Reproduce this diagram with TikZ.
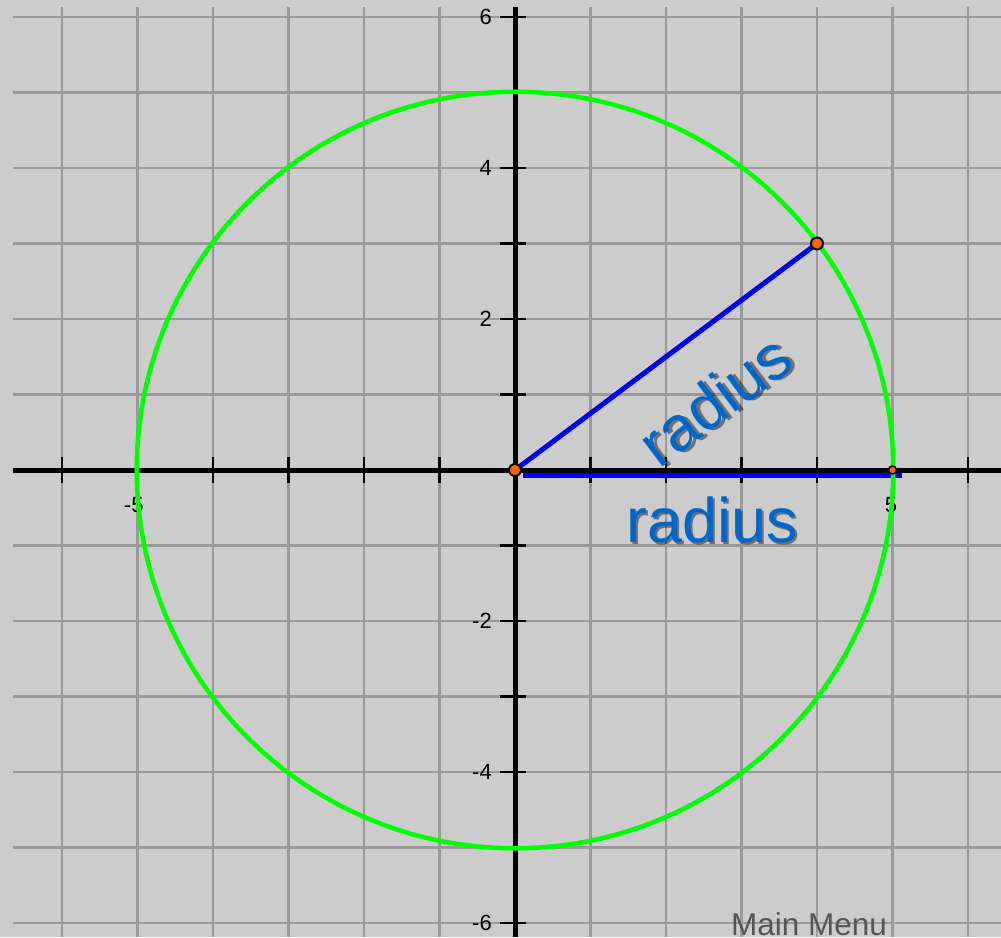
\documentclass[tikz,border=0pt]{standalone}
\usepackage{fontspec}
\setmainfont{Liberation Sans}
\definecolor{bggray}{RGB}{204,204,204}
\definecolor{gridgray}{RGB}{153,153,153}
\definecolor{circgreen}{RGB}{0,255,0}
\definecolor{segblue}{RGB}{0,0,255}
\definecolor{radblue}{RGB}{0,102,204}
\definecolor{ptorange}{RGB}{255,102,0}
\definecolor{menugray}{RGB}{85,85,85}
\begin{document}
\begin{tikzpicture}[x=75.5pt,y=75.5pt,
  gridline/.style={draw=gridgray, line width=2.5pt},
  axisline/.style={draw=black, line width=5pt},
  tickmark/.style={draw=black, line width=2.5pt},
  ticklabel/.style={font=\fontsize{22}{24}\selectfont, text=black, inner sep=0pt},
  radseg/.style={draw=segblue, line width=5pt},
  ptdot/.style={circle, fill=ptorange, draw=black, line width=2pt, inner sep=0pt, minimum size=12pt},
  radlabel/.style={font=\fontsize{63}{70}\selectfont, text=radblue, inner sep=0pt},
  radshadow/.style={font=\fontsize{63}{70}\selectfont, text=black, text opacity=0.45, inner sep=0pt},
  menulabel/.style={font=\fontsize{31.5}{34}\selectfont, text=menugray, inner sep=0pt}]
% background and bounding box
\fill[bggray] (-6.8212,-6.1854) rectangle (6.4371,6.2252);
\useasboundingbox (-6.8212,-6.1854) rectangle (6.4371,6.2252);
% grid
\foreach \k in {-6,...,6} {
  \draw[gridline] (-6.649,\k) -- (6.4371,\k);
  \draw[gridline] (\k,6.1325) -- (\k,-6.1854);
}
% axes
\draw[axisline] (-6.649,0) -- (6.4371,0);
\draw[axisline] (0,6.1325) -- (0,-6.1854);
% ticks
\foreach \k in {-6,...,-1,1,2,...,6} {
  \draw[tickmark] (\k,-0.172) -- (\k,0.172);
  \draw[tickmark] (-0.205,\k) -- (0.15,\k);
}
% tick labels
\foreach \k in {-6,-4,-2,2,4,6} {
  \node[ticklabel, anchor=east] (ly\k) at (-0.305,\k) {\k};
}
\node[ticklabel] (lxm5) at (-5.05,-0.47) {-5};
\node[ticklabel] (lx5) at (4.98,-0.47) {5};
% named points
\coordinate (O) at (0,0);
\coordinate (P) at (4,3);
\coordinate (Q) at (5,0);
\coordinate (HA) at (0.106,-0.073);
\coordinate (HB) at (5.126,-0.073);
% radius segments
\draw[radseg] (O) -- (P);
\draw[radseg] (HA) -- (HB);
% circle
\draw[draw=circgreen, line width=4.5pt] (O) circle[radius=5.01];
% points
\node[ptdot] (dotO) at (O) {};
\node[ptdot] (dotP) at (P) {};
\node[ptdot, minimum size=8pt, line width=1.5pt] (dotQ) at (Q) {};
% radius labels with shadow
\node[radshadow, rotate=36.87, xshift=2.5pt, yshift=-2.5pt] (labDs) at (2.649,0.927) {radius};
\node[radlabel, rotate=36.87] (labD) at (2.649,0.927) {radius};
\node[radshadow, anchor=base, xshift=2.5pt, yshift=-2.5pt] (labHs) at (2.609,-0.954) {radius};
\node[radlabel, anchor=base] (labH) at (2.609,-0.954) {radius};
% main menu
\node[menulabel, anchor=base west] (menu) at (2.861,-6.172) {Main Menu};
\end{tikzpicture}
\end{document}
